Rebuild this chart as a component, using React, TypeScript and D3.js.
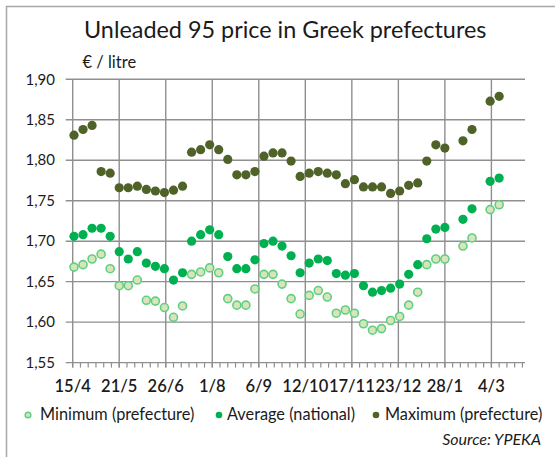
import React from "react";
import * as d3 from "d3";

// weekly observations (dd/mm), Apr 2011 - Mar 2012
const dates = [
  "2011-04-16", "2011-04-23", "2011-04-30", "2011-05-07", "2011-05-14", "2011-05-21",
  "2011-05-28", "2011-06-04", "2011-06-11", "2011-06-18", "2011-06-25", "2011-07-02",
  "2011-07-09", "2011-07-16", "2011-07-23", "2011-07-30", "2011-08-06", "2011-08-13",
  "2011-08-20", "2011-08-27", "2011-09-03", "2011-09-10", "2011-09-17", "2011-09-24",
  "2011-10-01", "2011-10-08", "2011-10-15", "2011-10-22", "2011-10-29", "2011-11-05",
  "2011-11-12", "2011-11-19", "2011-11-26", "2011-12-03", "2011-12-10", "2011-12-17",
  "2011-12-24", "2011-12-31", "2012-01-07", "2012-01-14", "2012-01-21", "2012-01-28",
  "2012-02-11", "2012-02-18", "2012-03-03", "2012-03-10",
];

const minimum = [
  1.668, 1.671, 1.678, 1.684, 1.666, 1.645, 1.645, 1.652, 1.627, 1.626, 1.618, 1.606,
  1.620, 1.659, 1.662, 1.667, 1.661, 1.629, 1.621, 1.621, 1.641, 1.659, 1.659, 1.647,
  1.629, 1.610, 1.633, 1.639, 1.631, 1.611, 1.615, 1.611, 1.598, 1.590, 1.592, 1.602,
  1.607, 1.621, 1.637, 1.671, 1.678, 1.678, 1.694, 1.704, 1.739, 1.745,
];

const average = [
  1.706, 1.708, 1.716, 1.716, 1.706, 1.687, 1.678, 1.687, 1.673, 1.669, 1.666, 1.652,
  1.661, 1.700, 1.708, 1.714, 1.708, 1.681, 1.666, 1.666, 1.677, 1.697, 1.700, 1.694,
  1.682, 1.661, 1.673, 1.678, 1.676, 1.660, 1.658, 1.660, 1.645, 1.637, 1.639, 1.642,
  1.647, 1.659, 1.671, 1.703, 1.715, 1.717, 1.727, 1.740, 1.774, 1.778,
];

const maximum = [
  1.831, 1.838, 1.843, 1.786, 1.784, 1.766, 1.766, 1.768, 1.764, 1.762, 1.760, 1.763,
  1.768, 1.810, 1.813, 1.819, 1.813, 1.801, 1.782, 1.782, 1.786, 1.805, 1.809, 1.809,
  1.799, 1.780, 1.784, 1.786, 1.784, 1.782, 1.771, 1.776, 1.767, 1.767, 1.767, 1.759,
  1.762, 1.769, 1.772, 1.799, 1.819, 1.815, 1.824, 1.838, 1.873, 1.879,
];

const xTickDates = [
  "2011-04-15", "2011-05-21", "2011-06-26", "2011-08-01", "2011-09-06",
  "2011-10-12", "2011-11-17", "2011-12-23", "2012-01-28", "2012-03-04",
];
const xTickLabels = ["15/4", "21/5", "26/6", "1/8", "6/9", "12/10", "17/11", "23/12", "28/1", "4/3"];
const yTicks = [1.55, 1.6, 1.65, 1.7, 1.75, 1.8, 1.85, 1.9];

const parse = d3.utcParse("%Y-%m-%d");

const W = 555;
const H = 457;
const left = 72.7;
const right = 525;
const top = 79.3;
const bottom = 362.6;

const FONT = "Lato, 'Open Sans', sans-serif";
const GRID = "#8f8f8f";
const TEXT = "#1b1b1b";

const MAX_COLOR = "#4f6228";
const AVG_COLOR = "#00b050";
const MIN_FILL = "#d8e4bc";
const MIN_STROKE = "#5fd080";

export default function App() {
  const start = parse(xTickDates[0]) as Date;
  const end = d3.utcDay.offset(start, 350);

  const x = d3.scaleUtc().domain([start, end]).range([left, right]);
  const y = d3.scaleLinear().domain([1.55, 1.9]).range([bottom, top]);

  // minor ticks every 6 days along the date axis
  const minorTicks = d3.utcDay.every(1)!.range(start, d3.utcDay.offset(end, 1))
    .filter((d) => Math.round((+d - +start) / 864e5) % 6 === 0);

  const pts = dates.map((d) => parse(d) as Date);
  const r = 4.6;

  return (
    <div style={{ position: "absolute", left: 0, top: 0 }}>
      <svg width={W} height={H} viewBox={`0 0 ${W} ${H}`} style={{ display: "block", background: "#fff" }}>
        <rect x={6.5} y={6.5} width={W + 20} height={H + 20} fill="#fff" stroke="#a8a8a8" strokeWidth={1.5} />

        <text x={84} y={38} fontFamily={FONT} fontSize={23.4} fill={TEXT}>
          Unleaded 95 price in Greek prefectures
        </text>
        <text x={82.5} y={68} fontFamily={FONT} fontSize={16.5} fill={TEXT}>
          € / litre
        </text>

        {/* horizontal grid + y labels */}
        {yTicks.map((t) => (
          <g key={t}>
            <line x1={left - 7} x2={right} y1={y(t)} y2={y(t)} stroke={GRID} strokeWidth={1.4} />
            <text x={55} y={y(t)} dy="0.35em" textAnchor="end" fontFamily={FONT} fontSize={15} fill={TEXT}>
              {t.toFixed(2).replace(".", ",")}
            </text>
          </g>
        ))}

        {/* vertical grid at labelled dates */}
        {xTickDates.map((d, i) => (
          <g key={d}>
            <line x1={x(parse(d) as Date)} x2={x(parse(d) as Date)} y1={top} y2={bottom + 5} stroke={GRID} strokeWidth={1.4} />
            <text x={x(parse(d) as Date)} y={392} textAnchor="middle" fontFamily={FONT} fontSize={16.5} fontWeight={600} fill={TEXT}>
              {xTickLabels[i]}
            </text>
          </g>
        ))}

        {minorTicks.map((d, i) => (
          <line key={i} x1={x(d)} x2={x(d)} y1={bottom} y2={bottom + 5} stroke={GRID} strokeWidth={1.2} />
        ))}

        {/* series */}
        {pts.map((d, i) => (
          <circle key={"max" + i} cx={x(d)} cy={y(maximum[i])} r={r} fill={MAX_COLOR} />
        ))}
        {pts.map((d, i) => (
          <circle key={"avg" + i} cx={x(d)} cy={y(average[i])} r={r} fill={AVG_COLOR} />
        ))}
        {pts.map((d, i) => (
          <circle key={"min" + i} cx={x(d)} cy={y(minimum[i])} r={r - 0.6} fill={MIN_FILL} stroke={MIN_STROKE} strokeWidth={1.6} />
        ))}

        {/* legend */}
        <g fontFamily={FONT} fontSize={16.3} fill={TEXT}>
          <circle cx={28} cy={415} r={2.8} fill={MIN_FILL} stroke={MIN_STROKE} strokeWidth={1.5} />
          <text x={40} y={420}>Minimum (prefecture)</text>
          <circle cx={219} cy={415} r={3.3} fill={AVG_COLOR} />
          <text x={227} y={420}>Average (national)</text>
          <circle cx={376} cy={415} r={3.3} fill={MAX_COLOR} />
          <text x={385} y={420}>Maximum (prefecture)</text>
        </g>

        <text x={541} y={445} textAnchor="end" fontFamily={FONT} fontSize={16} fontStyle="italic" fill={TEXT}>
          Source: YPEKA
        </text>
      </svg>
    </div>
  );
}
